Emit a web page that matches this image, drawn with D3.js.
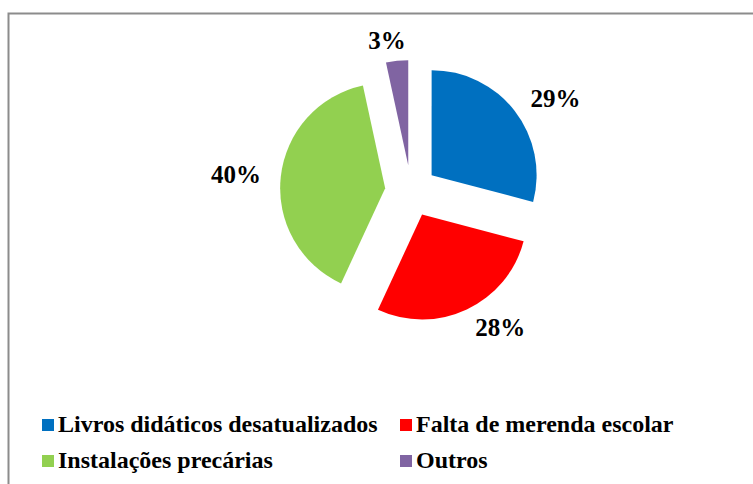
<!DOCTYPE html>
<html>
<head>
<meta charset="utf-8">
<script src="https://cdn.jsdelivr.net/npm/d3@7"></script>
<style>
  body { margin: 0; background: #fff; }
  svg { display: block; }
</style>
</head>
<body>
<svg></svg>
<script>
// ==== Données ==== //
const categories = ["Livros didáticos desatualizados", "Falta de merenda escolar", "Instalações precárias", "Outros"];
const valores = [29.1, 27.8, 39.7, 3.4];
const cores = ["#0070C0", "#FF0000", "#92D050", "#8064A2"];

const width = 753;
const height = 484;
const police = "Liberation Serif, Times New Roman, serif";

const svg = d3.select("svg")
    .attr("width", width)
    .attr("height", height);

// cadre gris
svg.append("rect")
    .attr("x", 8.5).attr("y", 13.5)
    .attr("width", 780).attr("height", 500)
    .attr("fill", "none")
    .attr("stroke", "#8c8c8c")
    .attr("stroke-width", 2);

// Pie explosé
const cx = 411, cy = 191;
const rayon = 105;
const explode = 26;

const pie = d3.pie().sort(null).value(d => d.v);
const arc = d3.arc().innerRadius(0).outerRadius(rayon);

const donnees = categories.map((c, i) => ({ nom: c, v: valores[i], cor: cores[i] }));
const arcs = pie(donnees);
const total = d3.sum(valores);

const g = svg.append("g").attr("transform", `translate(${cx},${cy})`);

function direction(d) {
    const a = (d.startAngle + d.endAngle) / 2;
    return [Math.sin(a), -Math.cos(a)];
}

g.selectAll("path")
    .data(arcs)
    .enter()
    .append("path")
    .attr("d", arc)
    .attr("fill", d => d.data.cor)
    .attr("transform", d => {
        const [ux, uy] = direction(d);
        return `translate(${ux * explode},${uy * explode})`;
    });

// étiquettes pourcentages (extérieur)
const labelSize = 25;
const labels = g.selectAll("text.pct")
    .data(arcs)
    .enter()
    .append("text")
    .attr("class", "pct")
    .style("font-family", police)
    .style("font-weight", "bold")
    .style("font-size", labelSize + "px")
    .attr("text-anchor", "middle")
    .text(d => Math.round(d.data.v / total * 100) + "%");

labels.each(function(d) {
    const bb = this.getBBox();
    const [ux, uy] = direction(d);
    const dist = 151;
    // décalage horizontal pour que la boîte du texte ne touche pas la part
    const x = ux * dist + Math.sign(ux) * bb.width / 2 * Math.min(1, Math.abs(ux) * 4);
    const y = uy * dist;
    d3.select(this).attr("x", x).attr("y", y + labelSize * 0.34);
});

// Légende
const legende = svg.append("g");
const colX = [42, 400];
const rowY = [432, 468];

const item = legende.selectAll("g")
    .data(donnees)
    .enter()
    .append("g")
    .attr("transform", (d, i) => `translate(${colX[i % 2]},${rowY[Math.floor(i / 2)]})`);

item.append("rect")
    .attr("x", 0).attr("y", -13)
    .attr("width", 12).attr("height", 12)
    .attr("fill", d => d.cor);

item.append("text")
    .attr("x", 16)
    .attr("y", 0)
    .style("font-family", police)
    .style("font-weight", "bold")
    .style("font-size", "24px")
    .text(d => d.nom);
</script>
</body>
</html>
